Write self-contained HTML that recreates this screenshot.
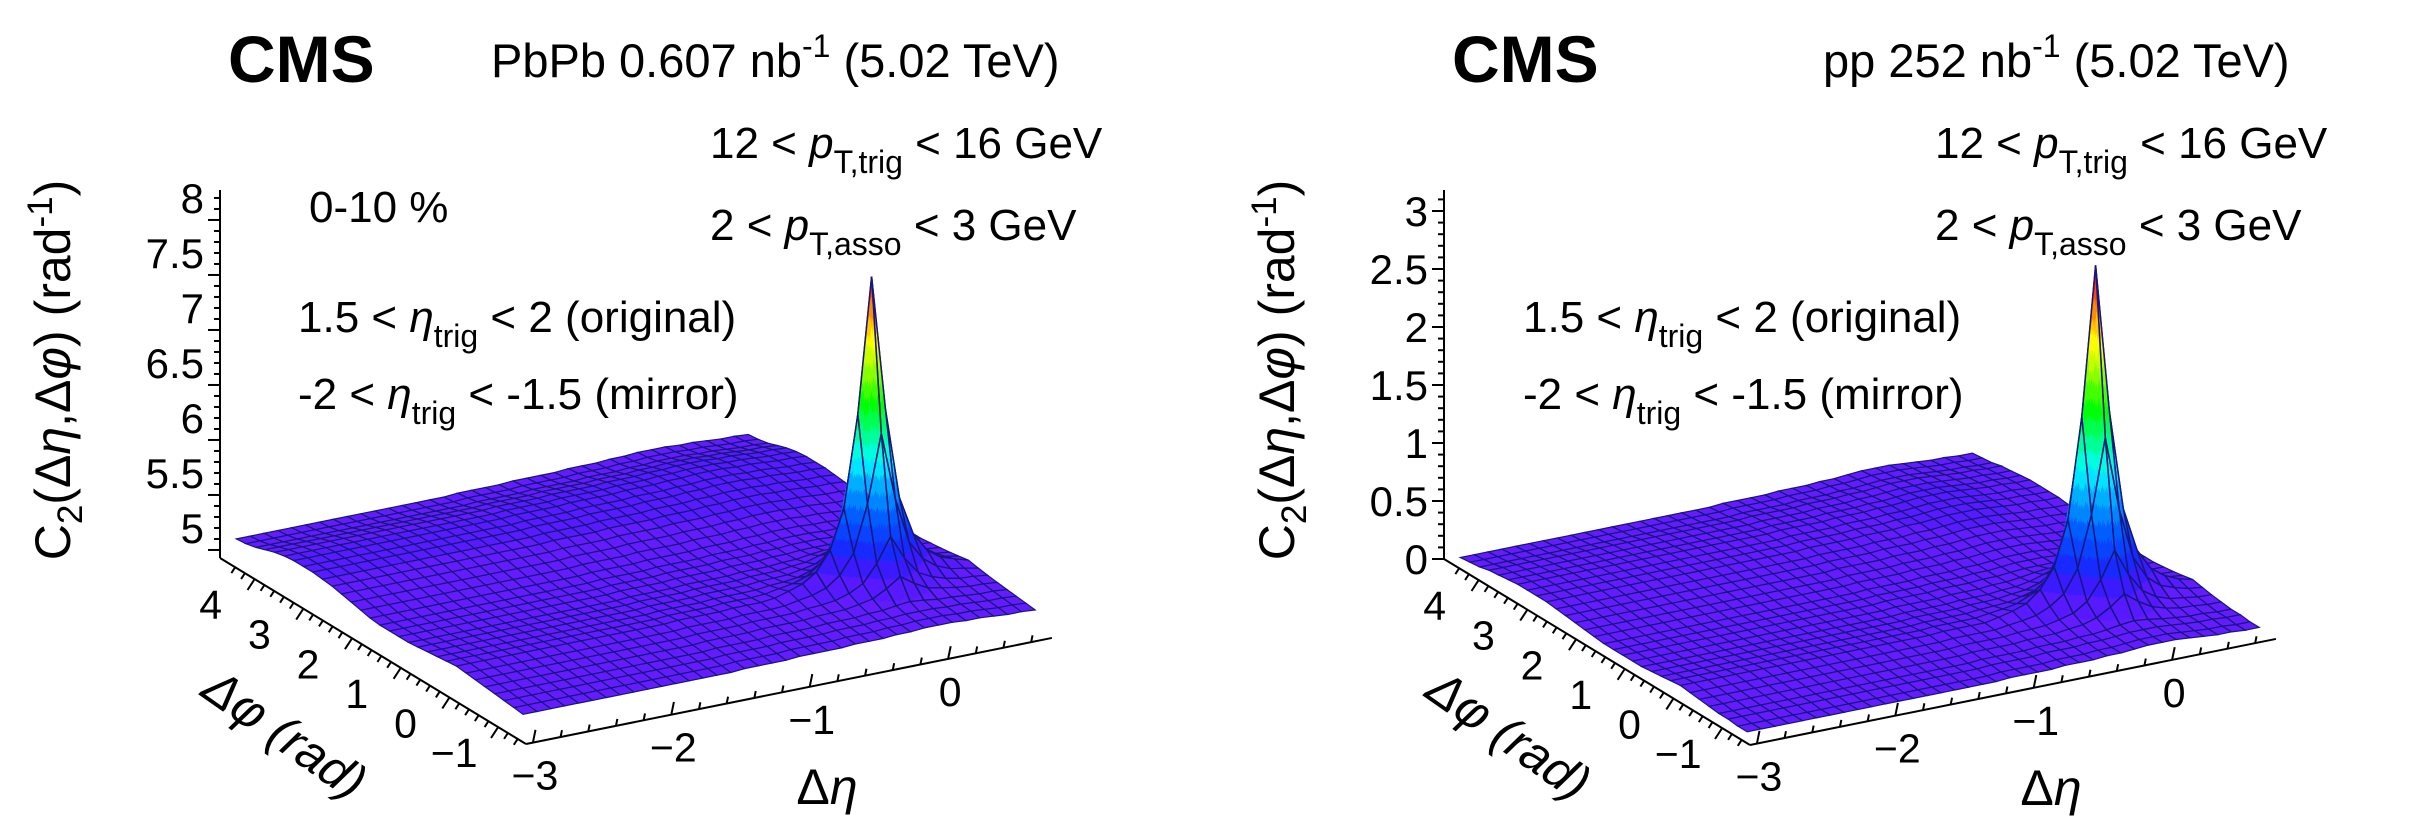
<!DOCTYPE html>
<html><head><meta charset="utf-8"><title>CMS C2 correlation</title>
<style>html,body{margin:0;padding:0;background:#fff}svg{display:block}
text{font-family:"Liberation Sans",sans-serif;fill:#000}</style></head>
<body>
<svg id="fig" width="2435" height="819" viewBox="0 0 2435 819" xmlns="http://www.w3.org/2000/svg">
<g>
<text x="228" y="82" font-size="66" font-weight="bold">CMS</text>
<text x="491" y="77" font-size="47">PbPb 0.607 nb<tspan dy="-20" font-size="32">-1</tspan><tspan dy="20"> (5.02 TeV)</tspan></text>
<text x="710" y="158" font-size="44">12 &lt; <tspan font-style="italic">p</tspan><tspan dy="15" font-size="32">T,trig</tspan><tspan dy="-15"> &lt; 16 GeV</tspan></text>
<text x="710" y="240" font-size="44">2 &lt; <tspan font-style="italic">p</tspan><tspan dy="15" font-size="32">T,asso</tspan><tspan dy="-15"> &lt; 3 GeV</tspan></text>
<text x="309" y="222" font-size="44">0-10 %</text>
<text x="298" y="332" font-size="44">1.5 &lt; <tspan font-style="italic">η</tspan><tspan dy="15" font-size="32">trig</tspan><tspan dy="-15"> &lt; 2 (original)</tspan></text>
<text x="298" y="409" font-size="44">-2 &lt; <tspan font-style="italic">η</tspan><tspan dy="15" font-size="32">trig</tspan><tspan dy="-15"> &lt; -1.5 (mirror)</tspan></text>
</g>
<g>
<text x="1452" y="82" font-size="66" font-weight="bold">CMS</text>
<text x="1823" y="77" font-size="47">pp 252 nb<tspan dy="-20" font-size="32">-1</tspan><tspan dy="20"> (5.02 TeV)</tspan></text>
<text x="1935" y="158" font-size="44">12 &lt; <tspan font-style="italic">p</tspan><tspan dy="15" font-size="32">T,trig</tspan><tspan dy="-15"> &lt; 16 GeV</tspan></text>
<text x="1935" y="240" font-size="44">2 &lt; <tspan font-style="italic">p</tspan><tspan dy="15" font-size="32">T,asso</tspan><tspan dy="-15"> &lt; 3 GeV</tspan></text>
<text x="1523" y="332" font-size="44">1.5 &lt; <tspan font-style="italic">η</tspan><tspan dy="15" font-size="32">trig</tspan><tspan dy="-15"> &lt; 2 (original)</tspan></text>
<text x="1523" y="409" font-size="44">-2 &lt; <tspan font-style="italic">η</tspan><tspan dy="15" font-size="32">trig</tspan><tspan dy="-15"> &lt; -1.5 (mirror)</tspan></text>
</g>
</svg>
<script>
// ---- data ----
const etaNodes = [-3.0,-2.9,-2.8,-2.7,-2.6,-2.5,-2.4,-2.3,-2.2,-2.1,-2.0,-1.9,-1.8,-1.7,-1.6,-1.5,-1.4,-1.3,-1.2,-1.1,-1.0,-0.9,-0.8,-0.7,-0.6,-0.5,-0.4,-0.3,-0.2,-0.1,0.0,0.1,0.2,0.3,0.4,0.5,0.6,0.7];
const phiNodes = [-1.37,-1.18,-0.98,-0.79,-0.59,-0.39,-0.20,0.00,0.20,0.39,0.59,0.79,0.98,1.18,1.37,1.57,1.77,1.96,2.16,2.36,2.55,2.75,2.95,3.14,3.34,3.53,3.73,3.93,4.12,4.32,4.52];
const pbpbBasePhi = [4.93,4.94,4.95,4.96,4.97,4.98,4.99,5.00,4.99,4.98,4.97,4.96,4.95,4.95,4.95,4.95,4.96,4.98,5.00,5.02,5.04,5.05,5.06,5.06,5.06,5.05,5.03,5.00,4.97,4.95,4.94];
const pbpbBaseEta = [0,0,0,0,0,0,0,0,0,0,0,0,0,0,0,0,0.01,0.01,0.01,0.01,0.02,0.02,0.02,0.02,0.03,0.03,0.03,0.04,0.04,0.05,0.05,0.05,0.04,0.04,0.03,0.02,0.02,0.01];
const ppBasePhi = [0.05,0.05,0.06,0.06,0.07,0.08,0.09,0.10,0.09,0.08,0.07,0.06,0.06,0.06,0.06,0.06,0.07,0.08,0.09,0.10,0.11,0.12,0.12,0.12,0.12,0.11,0.10,0.09,0.07,0.06,0.05];
const ppBaseEta = [0,0,0,0,0,0,0,0,0,0,0,0,0,0,0,0,0,0,0,0.01,0.01,0.01,0.01,0.02,0.02,0.02,0.03,0.03,0.04,0.05,0.05,0.05,0.04,0.03,0.02,0.02,0.01,0.01];
const peakEta = [0,0,0,0,0,0,0,0,0,0,0,0,0,0,0,0,0,0,0,0,0,0,0,0.005,0.015,0.03,0.06,0.12,0.25,0.55,1.0,0.55,0.25,0.12,0.06,0.03,0.015,0.005];
const peakPhi = [0,0,0,0.01,0.07,0.18,0.5,1.0,0.5,0.18,0.07,0.03,0.01,0,0,0,0,0,0,0,0,0,0,0,0,0,0,0,0,0,0];
const pbpbPeakAmp = [2.73];
const ppPeakAmp = [2.85];
const pbpbZTicks = ["5","5.5","6","6.5","7","7.5","8"];
const ppZTicks = ["0","0.5","1","1.5","2","2.5","3"];
const etaTicks = ["−3","−2","−1","0"];
const phiTicks = ["−1","0","1","2","3","4"];

const NS = "http://www.w3.org/2000/svg";
const svg = document.getElementById('fig');
function mk(tag, attrs, parent){const e=document.createElementNS(NS,tag);for(const k in attrs)e.setAttribute(k,attrs[k]);(parent||svg).appendChild(e);return e;}

const stops=[[0,100,28,255],[0.06,72,22,255],[0.12,25,40,255],[0.22,0,90,255],[0.32,0,170,255],[0.40,0,255,255],[0.50,0,255,120],[0.58,0,255,0],[0.70,170,255,0],[0.78,255,255,0],[0.86,255,160,0],[0.93,255,70,0],[1.0,255,0,0]];
function pal(t){t=Math.max(0,Math.min(1,Math.floor(t*20)/20+0.025));
 for(let i=1;i<stops.length;i++){if(t<=stops[i][0]){const a=stops[i-1],b=stops[i],f=(t-a[0])/(b[0]-a[0]);
  return `rgb(${Math.round(a[1]+f*(b[1]-a[1]))},${Math.round(a[2]+f*(b[2]-a[2]))},${Math.round(a[3]+f*(b[3]-a[3]))})`;}}
 return 'rgb(255,0,0)';}

function panel(cfg){
 const g=mk('g',{});
 
 
 const etaMin=-3.05, phiMax=4.712;
 const P=(eta,phi,z)=>[cfg.ox+(eta-etaMin)*138.4+(phiMax-phi)*48.7, cfg.oy-(eta-etaMin)*27.9+(phiMax-phi)*29.6-(z-cfg.zMin)*cfg.zs];
 const Z=(i,j)=>cfg.basePhi[j]+cfg.baseEta[i]+cfg.amp[0]*peakEta[i]*peakPhi[j];
 const ax=mk('g',{stroke:'#000','stroke-width':2,fill:'none'},g);
 
 
 const zTop=cfg.zMin+(cfg.oy-190)/cfg.zs;
 mk('line',{x1:cfg.ox,y1:190,x2:cfg.ox,y2:cfg.oy},ax);
 const f0=P(etaMin,phiMax,cfg.zMin),f1=P(etaMin,-1.571,cfg.zMin),f2=P(0.75,-1.571,cfg.zMin);
 mk('line',{x1:f0[0],y1:f0[1],x2:f1[0],y2:f1[1]},ax);
 mk('line',{x1:f1[0],y1:f1[1],x2:f2[0],y2:f2[1]},ax);
 for(let k=0;;k++){const z=cfg.zFirst+k*0.1; if(z>zTop+1e-6)break; const y=cfg.oy-(z-cfg.zMin)*cfg.zs; const major=(k%5===0);
  mk('line',{x1:cfg.ox-(major?12:6),y1:y,x2:cfg.ox,y2:y},ax);}
 for(let k=cfg.zFirst-0.1;k>cfg.zMin;k-=0.1){const y=cfg.oy-(k-cfg.zMin)*cfg.zs;mk('line',{x1:cfg.ox-6,y1:y,x2:cfg.ox,y2:y},ax);}
 cfg.zTicks.forEach((lab)=>{const v=parseFloat(lab);const y=cfg.oy-(v-cfg.zMin)*cfg.zs;
  const t=mk('text',{x:cfg.ox-16,y:y+15,'font-size':42,'text-anchor':'end',stroke:'none'},g);
  
  
  t.textContent=lab;});
 for(let v=-1.4;v<=4.6;v+=0.2){const p=P(etaMin,v,cfg.zMin);const major=Math.abs(v-Math.round(v))<1e-6;const L=major?13:7;
  mk('line',{x1:p[0],y1:p[1],x2:p[0]-0.55*L,y2:p[1]+0.84*L},ax);}
 phiTicks.forEach(lab=>{const v=parseFloat(lab.replace('−','-'));const p=P(etaMin,v,cfg.zMin);
  const t=mk('text',{x:p[0]-44,y:p[1]+40,'font-size':41,'text-anchor':'middle',stroke:'none'},g);
  
  
  t.textContent=lab;});
 for(let v=-3.0;v<=0.7;v+=0.2){const p=P(v,-1.571,cfg.zMin);const major=Math.abs(v-Math.round(v))<1e-6;const L=major?13:7;
  mk('line',{x1:p[0],y1:p[1],x2:p[0]+0.2*L,y2:p[1]-0.98*L},ax);}
 etaTicks.forEach(lab=>{const v=parseFloat(lab.replace('−','-'));const p=P(v,-1.571,cfg.zMin);
  const t=mk('text',{x:p[0]+2,y:p[1]+47,'font-size':41,'text-anchor':'middle',stroke:'none'},g);
  
  
  t.textContent=lab;});
 const zt=mk('text',{transform:`translate(${cfg.ox-150},${370}) rotate(-90)`,'font-size':50,'text-anchor':'middle'},g);
 
 
 zt.innerHTML='C<tspan dy="12" font-size="35">2</tspan><tspan dy="-12">(Δ</tspan><tspan font-style="italic">η</tspan>,Δ<tspan font-style="italic">φ</tspan>) (rad<tspan dy="-18" font-size="35">-1</tspan><tspan dy="18">)</tspan>';
 const pt=mk('text',{transform:`translate(${cfg.ox+55},${cfg.oy+190}) rotate(35)`,'font-size':50,'text-anchor':'middle','font-style':'italic'},g);
 
 
 pt.textContent='Δφ (rad)';
 const et=mk('text',{x:cfg.ox+607,y:cfg.oy+246,'font-size':50,'text-anchor':'middle'},g);
 
 
 et.innerHTML='Δ<tspan font-style="italic">η</tspan>';
 const surf=mk('g',{},g);
 
 
 const quads=[];
 for(let i=0;i<etaNodes.length-1;i++)for(let j=0;j<phiNodes.length-1;j++){
  const d=P((etaNodes[i]+etaNodes[i+1])/2,(phiNodes[j]+phiNodes[j+1])/2,cfg.zMin)[1];quads.push([d,i,j]);}
 quads.sort((a,b)=>a[0]-b[0]);
 const tOf=z=>(z-cfg.cLow)/(cfg.cTop-cfg.cLow);
 quads.forEach(([d,i,j])=>{
  const e0=etaNodes[i],e1=etaNodes[i+1],p0=phiNodes[j],p1=phiNodes[j+1];
  const z00=Z(i,j),z10=Z(i+1,j),z01=Z(i,j+1),z11=Z(i+1,j+1);
  const zs=[z00,z10,z11,z01];const range=Math.max(...zs)-Math.min(...zs);
  const corner=[P(e0,p0,z00),P(e1,p0,z10),P(e1,p1,z11),P(e0,p1,z01)];
  const bil=(u,v)=>z00*(1-u)*(1-v)+z10*u*(1-v)+z01*(1-u)*v+z11*u*v;
  if(range>0.04*(cfg.cTop-cfg.cLow)){
   const n=14;const subs=[];
   for(let a=0;a<n;a++)for(let b=0;b<n;b++){const u0=a/n,u1=(a+1)/n,v0=b/n,v1=(b+1)/n;
    const dd=P(e0+(u0+u1)/2*(e1-e0),p0+(v0+v1)/2*(p1-p0),cfg.zMin)[1];subs.push([dd,u0,u1,v0,v1]);}
   subs.sort((x,y)=>x[0]-y[0]);
   subs.forEach(([dd,u0,u1,v0,v1])=>{
    const pts=[[u0,v0],[u1,v0],[u1,v1],[u0,v1]].map(([u,v])=>P(e0+u*(e1-e0),p0+v*(p1-p0),bil(u,v)));
    const c=pal(tOf(bil((u0+u1)/2,(v0+v1)/2)));
    const s=mk('polygon',{points:pts.map(p=>p[0].toFixed(1)+','+p[1].toFixed(1)).join(' '),fill:c,stroke:c,'stroke-width':0.6},surf);
    
    
   });
   const o=mk('polygon',{points:corner.map(p=>p[0].toFixed(1)+','+p[1].toFixed(1)).join(' '),fill:'none',stroke:'#16167e','stroke-width':1.5},surf);
   
   
  } else {
   const c=pal(tOf((z00+z10+z01+z11)/4));
   const q=mk('polygon',{points:corner.map(p=>p[0].toFixed(1)+','+p[1].toFixed(1)).join(' '),fill:c,stroke:'#16167e','stroke-width':1.2},surf);
   
   
  }
 });
}
panel({name:'pbpb-panel',ox:220,oy:558,zMin:4.727,zs:110,zFirst:4.8,zTicks:pbpbZTicks,basePhi:pbpbBasePhi,baseEta:pbpbBaseEta,amp:pbpbPeakAmp,cLow:5.05,cTop:7.8});
panel({name:'pp-panel',ox:1444,oy:559,zMin:0,zs:116,zFirst:0,zTicks:ppZTicks,basePhi:ppBasePhi,baseEta:ppBaseEta,amp:ppPeakAmp,cLow:0.15,cTop:2.95});
</script>
</body></html>
